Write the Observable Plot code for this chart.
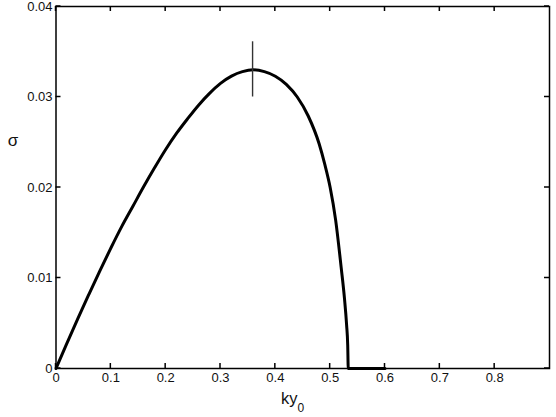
<!DOCTYPE html>
<html><head><meta charset="utf-8">
<script src="https://cdn.jsdelivr.net/npm/d3@7"></script>
<script src="https://cdn.jsdelivr.net/npm/@observablehq/plot@0.6"></script>
<style>html,body{margin:0;padding:0;background:#fff}#chart svg{display:block}</style>
</head><body><div id="chart"></div>
<script>
// wavenumber k*y0 and growth rate sigma
const k = [0, 0.02, 0.04, 0.06, 0.08, 0.10, 0.12, 0.14, 0.16, 0.18, 0.20, 0.22, 0.24, 0.26, 0.28, 0.30, 0.32, 0.34, 0.36, 0.38, 0.40, 0.42, 0.44, 0.46, 0.48, 0.49, 0.50, 0.51, 0.52, 0.526, 0.530, 0.532, 0.533, 0.56, 0.60];
const sigma = [0, 0.0028, 0.00555, 0.0082, 0.0108, 0.0133, 0.0157, 0.0179, 0.0201, 0.0222, 0.0242, 0.0260, 0.0276, 0.0291, 0.0304, 0.0315, 0.0323, 0.0328, 0.0330, 0.0328, 0.0323, 0.0314, 0.0300, 0.0279, 0.0248, 0.0226, 0.0200, 0.0164, 0.0112, 0.0078, 0.0048, 0.0026, 0, 0, 0];
const markerK = [0.3585];
const markerLow = 0.0300;
const markerHigh = 0.0361;
const xTicks = [0, 0.1, 0.2, 0.3, 0.4, 0.5, 0.6, 0.7, 0.8];
const xTickLabels = ["0", "0.1", "0.2", "0.3", "0.4", "0.5", "0.6", "0.7", "0.8"];
const yTicks = [0, 0.01, 0.02, 0.03, 0.04];
const yTickLabels = ["0", "0.01", "0.02", "0.03", "0.04"];
const xLabel = "ky";
const xLabelSub = "0";
const yLabel = "σ";

const W = 556, H = 417, mL = 55.5, mR = 7, mT = 6, mB = 49;
const data = k.map((d, i) => ({k: d, s: sigma[i]}));
const font = "'Liberation Sans', Arial, Helvetica, sans-serif";

const chart = Plot.plot({
  width: W, height: H,
  marginLeft: mL, marginRight: mR, marginTop: mT, marginBottom: mB,
  style: {fontFamily: font, fontSize: "13px", color: "#111", background: "#fff"},
  x: {domain: [0, 0.9]},
  y: {domain: [0, 0.04]},
  marks: [
    Plot.axisX(xTicks, {tickSize: 0, tickPadding: 4, fontSize: 13, tickFormat: d => xTickLabels[xTicks.indexOf(d)], label: null}),
    Plot.axisY(yTicks, {tickSize: 0, tickPadding: 3.5, fontSize: 13, tickFormat: d => yTickLabels[yTicks.indexOf(d)], label: null}),
    Plot.line(data, {x: "k", y: "s", stroke: "#000", strokeWidth: 3, curve: "monotone-x"}),
    Plot.ruleX(markerK, {x: d => d, y1: markerLow, y2: markerHigh, stroke: "#333", strokeWidth: 1.4}),
    Plot.frame({stroke: "#000", strokeWidth: 1.5})
  ]
});
document.getElementById("chart").appendChild(chart);

const svg = d3.select(chart);
// enforce tick label size
svg.selectAll("text").style("font-size", "13px").style("font-family", font);

// inward ticks on all four sides, positioned with the plot's own scales
const sx = chart.scale("x"), sy = chart.scale("y");
const frameTop = mT, frameBottom = H - mB, frameLeft = mL, frameRight = W - mR, tickLen = 5;
const tg = svg.append("g").attr("stroke", "#000").attr("stroke-width", 1.5);
xTicks.forEach(v => {
  const px = sx.apply(v);
  tg.append("line").attr("x1", px).attr("x2", px).attr("y1", frameBottom).attr("y2", frameBottom - tickLen);
  tg.append("line").attr("x1", px).attr("x2", px).attr("y1", frameTop).attr("y2", frameTop + tickLen);
});
yTicks.forEach(v => {
  const py = sy.apply(v);
  tg.append("line").attr("y1", py).attr("y2", py).attr("x1", frameLeft).attr("x2", frameLeft + tickLen);
  tg.append("line").attr("y1", py).attr("y2", py).attr("x1", frameRight).attr("x2", frameRight - tickLen);
});

const xl = svg.append("text")
  .attr("x", 292.5).attr("y", 404)
  .attr("font-family", font).attr("font-size", 16.5).attr("fill", "#111")
  .text(xLabel);
xl.append("tspan").attr("dy", 8).attr("font-size", 12).text(xLabelSub);
svg.append("text")
  .attr("x", 13).attr("y", 146).attr("text-anchor", "middle")
  .attr("font-family", font).attr("font-size", 17).attr("fill", "#111")
  .text(yLabel);
</script>
</body></html>
